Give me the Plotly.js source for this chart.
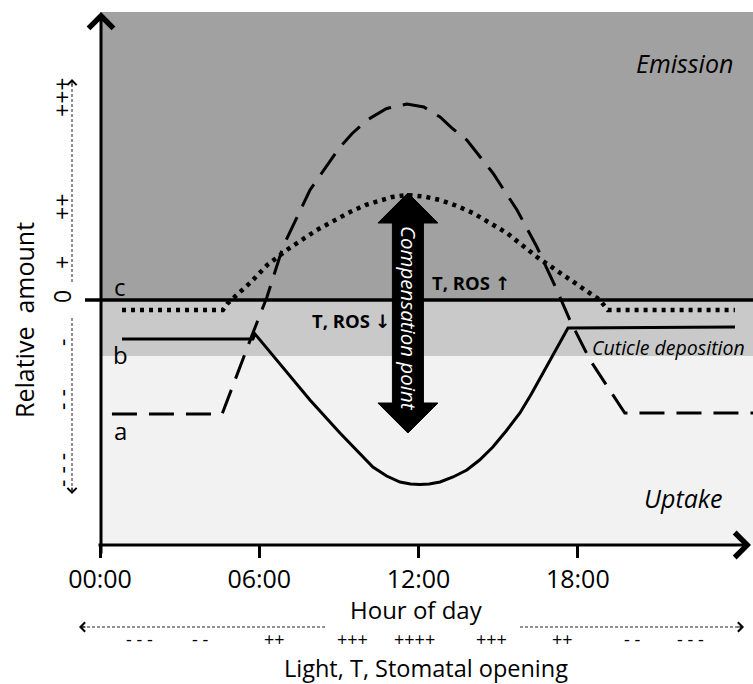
<!DOCTYPE html>
<html>
<head>
<meta charset="utf-8">
<script src="https://cdn.plot.ly/plotly-3.0.1.min.js"></script>
<style>html,body{margin:0;padding:0;background:#fff;}#chart{width:753px;height:684px;}</style>
</head>
<body>
<div id="chart"></div>
<script>
// ---- data (hour of day, relative amount) ----
const hoursA  = [0.45, 4.6, 5.76, 6.29, 6.89, 7.91, 9.04, 9.5, 10.06, 10.8, 11.56, 12.2, 12.81, 13.3, 13.82, 14.8, 15.71, 16.46, 17.21, 17.7, 18.46, 19.47, 19.77, 24.6];
const valuesA = [-2.28, -2.28, -0.66, 0.06, 1.06, 2.2, 3.06, 3.33, 3.6, 3.83, 3.92, 3.86, 3.66, 3.42, 3.2, 2.54, 1.8, 1.06, 0.2, -0.4, -1.2, -2.0, -2.26, -2.26];

const hoursB  = [0.83, 5.76, 5.84, 6.89, 7.91, 9.04, 9.7, 10.28, 10.8, 11.3, 11.7, 12.05, 12.4, 12.81, 13.3, 13.82, 14.3, 14.8, 15.3, 15.82, 16.25, 16.69, 17.33, 17.63, 23.92];
const valuesB = [-0.78, -0.78, -0.68, -1.34, -2.0, -2.66, -3.02, -3.34, -3.52, -3.64, -3.68, -3.69, -3.68, -3.64, -3.54, -3.4, -3.2, -2.94, -2.62, -2.26, -1.88, -1.46, -0.86, -0.56, -0.54];

const hoursC  = [0.83, 4.63, 4.82, 5.65, 6.3, 7.04, 8.17, 9.42, 10.0, 10.55, 11.0, 11.56, 12.2, 12.81, 13.4, 14.05, 15.33, 16.46, 17.59, 18.83, 19.13, 23.92];
const valuesC = [-0.2, -0.2, -0.06, 0.34, 0.7, 1.0, 1.4, 1.76, 1.9, 2.0, 2.06, 2.1, 2.07, 2.0, 1.89, 1.74, 1.34, 0.86, 0.46, 0.0, -0.2, -0.2];

const tickHours  = [0, 6, 12, 18];
const tickLabels = ['00:00', '06:00', '12:00', '18:00'];

const bottomSigns = ['- - -', '- -', '++', '+++', '++++', '+++', '++', '- -', '- - -'];
const leftSigns   = ['+++', '++', '+', '0', '-', '- -', '- - -'];

// ---- layout helpers (pixel -> paper) ----
const W = 753, H = 684, ML = 100, MR = 0, MT = 12, MB = 139;
const PW = W - ML - MR, PH = H - MT - MB;
const PX = px => (px - ML) / PW;
const PY = py => (H - MB - py) / PH;
const FONT = '"Open Sans", "DejaVu Sans", sans-serif';

const bottomSignX = [139, 200, 274, 352, 414, 491, 562, 632, 690];
const leftSignY   = [98, 207, 263, 297, 343, 400, 470];

const traces = [
  {x: hoursA, y: valuesA, mode: 'lines', line: {color: '#000', width: 3, dash: '25px,12px'}, hoverinfo: 'skip'},
  {x: hoursB, y: valuesB, mode: 'lines', line: {color: '#000', width: 3}, hoverinfo: 'skip'},
  {x: hoursC, y: valuesC, mode: 'lines', line: {color: '#000', width: 4.5, dash: '4px,5px'}, hoverinfo: 'skip'}
];

// compensation arrow geometry (hours / amount)
const cx = 11.6, sw = 0.584, hw = 1.13;
const yTip = 2.14, yHeadTop = 1.54, yHeadBot = -2.06, yTipBot = -2.66;
const arrowPath = `M ${cx} ${yTip} L ${cx+hw} ${yHeadTop} L ${cx+sw} ${yHeadTop} L ${cx+sw} ${yHeadBot} L ${cx+hw} ${yHeadBot} L ${cx} ${yTipBot} L ${cx-hw} ${yHeadBot} L ${cx-sw} ${yHeadBot} L ${cx-sw} ${yHeadTop} L ${cx-hw} ${yHeadTop} Z`;

const shapes = [
  {type: 'rect', xref: 'paper', yref: 'y', x0: 0, x1: 1, y0: 0, y1: 5.76, fillcolor: '#a1a1a1', line: {width: 0}, layer: 'below'},
  {type: 'rect', xref: 'paper', yref: 'y', x0: 0, x1: 1, y0: -1.12, y1: 0, fillcolor: '#c9c9c9', line: {width: 0}, layer: 'below'},
  {type: 'rect', xref: 'paper', yref: 'y', x0: 0, x1: 1, y0: -4.9, y1: -1.12, fillcolor: '#f2f2f2', line: {width: 0}, layer: 'below'},
  {type: 'line', xref: 'paper', yref: 'y', x0: PX(85), x1: 1, y0: 0, y1: 0, line: {color: '#000', width: 3.5}, layer: 'below'},
  {type: 'path', xref: 'x', yref: 'y', path: arrowPath, fillcolor: '#000', line: {color: '#000', width: 1}, layer: 'above'},
  // dotted guide arrows (shafts)
  {type: 'line', xref: 'paper', yref: 'paper', x0: PX(72), x1: PX(72), y0: PY(282), y1: PY(82), line: {color: '#222', width: 1, dash: '3px,2px'}},
  {type: 'line', xref: 'paper', yref: 'paper', x0: PX(72), x1: PX(72), y0: PY(318), y1: PY(490), line: {color: '#222', width: 1, dash: '3px,2px'}},
  {type: 'line', xref: 'paper', yref: 'paper', x0: PX(325), x1: PX(82), y0: PY(627), y1: PY(627), line: {color: '#222', width: 1, dash: '3px,2px'}},
  {type: 'line', xref: 'paper', yref: 'paper', x0: PX(520), x1: PX(741), y0: PY(627), y1: PY(627), line: {color: '#222', width: 1, dash: '3px,2px'}}
];

function arrowAnn(xpx, ypx, ax, ay, w, size) {
  return {xref: 'paper', yref: 'paper', x: PX(xpx), y: PY(ypx), axref: 'pixel', ayref: 'pixel', ax: ax, ay: ay,
          text: '', showarrow: true, arrowhead: 4, arrowwidth: w, arrowsize: size, arrowcolor: '#000', standoff: 0, startstandoff: 0};
}
function textAnn(text, xpx, ypx, size, opts) {
  return Object.assign({xref: 'paper', yref: 'paper', x: PX(xpx), y: PY(ypx), text: text, showarrow: false,
          xanchor: 'center', yanchor: 'middle', font: {family: FONT, size: size, color: '#000'}}, opts || {});
}

const annotations = [
  arrowAnn(101, 12, 0, 543, 3, 1.6),
  arrowAnn(751, 545, -654, 0, 3, 1.6),
  arrowAnn(72, 79, 0, 8, 1, 1.8),
  arrowAnn(72, 494, 0, -8, 1, 1.8),
  arrowAnn(79, 627, 8, 0, 1, 1.8),
  arrowAnn(744, 627, -8, 0, 1, 1.8),
  textAnn('<i>Emission</i>', 684, 63, 25),
  textAnn('<i>Uptake</i>', 683, 498, 25),
  textAnn('<i>Cuticle deposition</i>', 590, 347, 19.5, {xanchor: 'left'}),
  textAnn('c', 120, 286, 24),
  textAnn('b', 120, 355, 24),
  textAnn('a', 120, 430, 24),
  textAnn('<b>T, ROS ↑</b>', 471, 282, 18.5),
  textAnn('<b>T, ROS ↓</b>', 392, 320, 18.5, {xanchor: 'right'}),
  textAnn('<i>Compensation point</i>', 409, 318, 20.5, {textangle: 90, font: {family: FONT, size: 20.5, color: '#fff'}}),
  textAnn('Relative  amount', 24, 320, 25, {textangle: -90}),
  textAnn('Hour of day', 416, 609, 24),
  textAnn('Light, T, Stomatal opening', 426, 668, 23.5)
];
bottomSigns.forEach((s, i) => annotations.push(textAnn(s, bottomSignX[i], 639, 18)));
leftSigns.forEach((s, i) => annotations.push(textAnn(s, 62, leftSignY[i], 23, {textangle: -90})));

const layout = {
  width: W, height: H,
  margin: {l: ML, r: MR, t: MT, b: MB, pad: 0},
  paper_bgcolor: '#fff', plot_bgcolor: '#fff',
  showlegend: false,
  xaxis: {range: [0, 24.6], tickvals: tickHours, ticktext: tickLabels, ticks: 'outside', ticklen: 12, tickwidth: 3, tickcolor: '#000',
          showgrid: false, zeroline: false, showline: false, fixedrange: true,
          tickfont: {family: FONT, size: 25, color: '#000'}},
  yaxis: {range: [-4.9, 5.76], showgrid: false, zeroline: false, showline: false, showticklabels: false, ticks: '', fixedrange: true},
  shapes: shapes,
  annotations: annotations
};

Plotly.newPlot('chart', traces, layout, {staticPlot: true, displayModeBar: false});
</script>
</body>
</html>
